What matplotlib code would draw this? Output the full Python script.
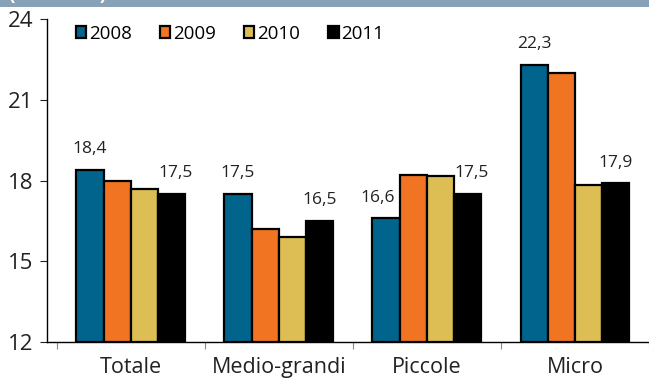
import matplotlib
matplotlib.use('Agg')
import matplotlib.pyplot as plt
import numpy as np
from matplotlib.patches import Rectangle

plt.rcParams['font.family'] = ['Open Sans', 'DejaVu Sans']

categories = ['Totale', 'Medio-grandi', 'Piccole', 'Micro']
years = ['2008', '2009', '2010', '2011']
v2008 = [18.4, 17.5, 16.6, 22.3]
v2009 = [18.0, 16.2, 18.2, 22.0]
v2010 = [17.7, 15.9, 18.15, 17.85]
v2011 = [17.5, 16.5, 17.5, 17.9]
series = [v2008, v2009, v2010, v2011]
colors = ['#00648c', '#f07422', '#dcbe55', '#000000']

# labels shown on the chart: (series index, category index, x offset in points)
shown = [(0, 0, 0), (3, 0, 3), (0, 1, 0), (3, 1, 0), (0, 2, -6), (3, 2, 3), (0, 3, 0), (3, 3, 0)]

fig = plt.figure(figsize=(6.49, 3.78), dpi=100)
fig.patch.set_facecolor('white')
ax = fig.add_axes([0.0724, 0.0952, 0.9276, 0.8545])

# top band with clipped subtitle
fig.patches.append(Rectangle((0, 1 - 7 / 378), 1, 7 / 378, transform=fig.transFigure,
                             facecolor='#87a2b8', edgecolor='none', zorder=0))
fig.text(8 / 649, 1 - 5 / 378, '(mediane)', color='white', fontsize=14,
         fontweight='bold', va='bottom', ha='left')

x = np.arange(len(categories))
w = 0.184
for i, (vals, c) in enumerate(zip(series, colors)):
    pos = x + (i - 1.5) * w
    ax.bar(pos, np.array(vals) - 12, width=w, bottom=12, color=c,
           edgecolor='black', linewidth=1.6, label=years[i], zorder=3)

for si, ci, dx in shown:
    val = series[si][ci]
    ax.annotate(f'{val:.1f}'.replace('.', ','), (x[ci] + (si - 1.5) * w, val),
                xytext=(dx, 9), textcoords='offset points', ha='center',
                va='bottom', fontsize=12.5, color='#222222')

ax.set_xlim(-0.567, 3.5)
ax.set_ylim(12, 24)
ax.set_yticks([12, 15, 18, 21, 24])
ax.tick_params(axis='y', labelsize=16, length=5, width=0.8, pad=5, colors='#222222')
ax.set_xticks(x)
ax.set_xticklabels(categories, fontsize=15.5)
ax.tick_params(axis='x', length=0, pad=11, colors='#222222')
ax.set_xticks(np.arange(-0.5, 4, 1), minor=True)
ax.tick_params(axis='x', which='minor', length=5, width=0.8, color='#888888')
for s in ['top', 'right']:
    ax.spines[s].set_visible(False)
ax.spines['left'].set_linewidth(1.0)
ax.spines['bottom'].set_linewidth(1.0)

leg = ax.legend(loc='upper left', bbox_to_anchor=(0.02, 1.035), ncol=4, frameon=False,
                fontsize=13.5, handlelength=0.55, handleheight=0.55, handletextpad=0.15,
                columnspacing=1.5)

fig.savefig('out.png', dpi=100)
